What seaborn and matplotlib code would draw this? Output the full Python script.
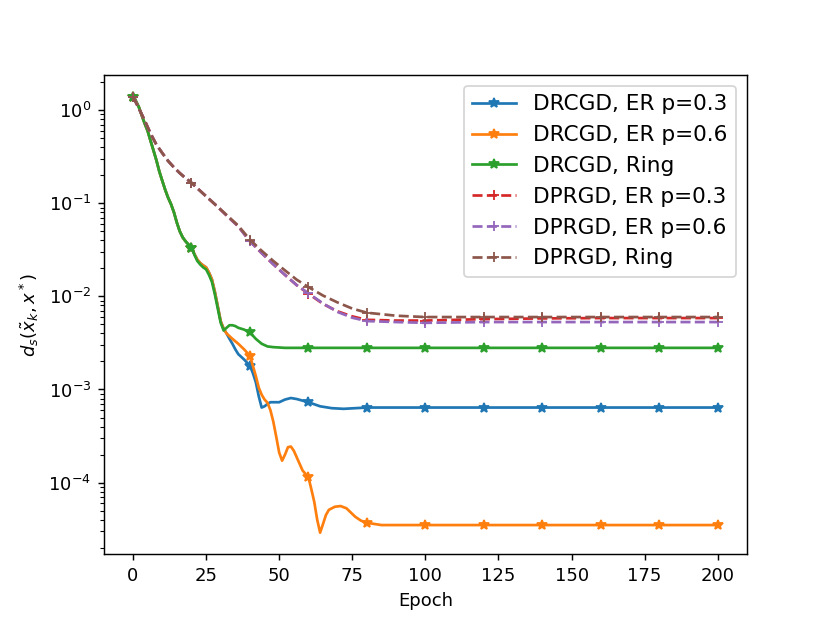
import matplotlib
matplotlib.use('Agg')
import matplotlib.pyplot as plt
import seaborn as sns

# values (log y axis)
drcgd_er03_epochs = [0, 1, 2, 3, 4, 5, 6, 7, 8, 9, 10, 11, 12, 13, 14, 15, 16, 17, 18, 19, 20,
                     21, 22, 23, 24, 25, 26, 27, 28, 29, 30, 31, 32, 33, 34, 35, 36, 38, 40,
                     41, 42, 43, 44, 45, 46, 47, 50, 52, 54, 56, 60, 64, 68, 72, 80,
                     100, 120, 140, 160, 180, 200]
drcgd_er03 = [1.40, 1.25, 1.08, 0.88, 0.72, 0.60, 0.47, 0.37, 0.29, 0.22, 0.175, 0.14, 0.115,
              0.098, 0.080, 0.062, 0.050, 0.043, 0.039, 0.036, 0.0334,
              0.0285, 0.0248, 0.0228, 0.0215, 0.0205, 0.018, 0.0152, 0.0112, 0.0078, 0.0054,
              0.0045, 0.0040, 0.0035, 0.0031, 0.0027, 0.0024, 0.0021, 0.0018,
              0.0015, 0.0012, 0.00085, 0.00064, 0.00066, 0.00070, 0.00073, 0.00073, 0.00078,
              0.00081, 0.00079, 0.00073, 0.00066, 0.00063, 0.00062, 0.00064,
              0.00064, 0.00064, 0.00064, 0.00064, 0.00064, 0.00064]

drcgd_er06_epochs = [0, 1, 2, 3, 4, 5, 6, 7, 8, 9, 10, 11, 12, 13, 14, 15, 16, 17, 18, 19, 20,
                     21, 22, 23, 24, 25, 26, 27, 28, 29, 30, 31, 32, 34, 36, 38, 40,
                     41, 42, 43, 44, 45, 46, 47, 48, 49, 50, 51, 52, 53, 54, 55, 56, 58, 60,
                     61, 62, 63, 64, 65, 66, 67, 69, 71, 73, 76, 78, 80, 85,
                     100, 120, 140, 160, 180, 200]
drcgd_er06 = [1.40, 1.25, 1.08, 0.88, 0.72, 0.60, 0.47, 0.37, 0.29, 0.22, 0.175, 0.14, 0.115,
              0.098, 0.080, 0.062, 0.050, 0.043, 0.039, 0.036, 0.0334,
              0.0285, 0.0248, 0.0228, 0.0215, 0.0205, 0.018, 0.0152, 0.0112, 0.0078, 0.0054,
              0.0045, 0.0040, 0.0035, 0.0031, 0.0027, 0.0023,
              0.0018, 0.0014, 0.00105, 0.00088, 0.00078, 0.00072, 0.00060, 0.00045, 0.00031,
              0.00021, 0.000172, 0.00020, 0.00024, 0.000244, 0.00022, 0.000187, 0.000135,
              0.000114, 8.5e-5, 6.2e-5, 4.0e-5, 2.9e-5, 3.6e-5, 4.5e-5, 5.1e-5, 5.5e-5,
              5.6e-5, 5.3e-5, 4.3e-5, 3.9e-5, 3.7e-5, 3.5e-5,
              3.5e-5, 3.5e-5, 3.5e-5, 3.5e-5, 3.5e-5, 3.5e-5]

drcgd_ring_epochs = [0, 1, 2, 3, 4, 5, 6, 7, 8, 9, 10, 11, 12, 13, 14, 15, 16, 17, 18, 19, 20,
                     21, 22, 23, 24, 25, 26, 27, 28, 29, 30, 31, 32, 33, 34, 35, 36, 38, 40,
                     42, 44, 46, 48, 52, 56, 60, 80, 100, 120, 140, 160, 180, 200]
drcgd_ring = [1.40, 1.25, 1.08, 0.88, 0.72, 0.60, 0.47, 0.37, 0.29, 0.22, 0.175, 0.14, 0.115,
              0.098, 0.080, 0.062, 0.050, 0.043, 0.039, 0.036, 0.0334,
              0.028, 0.024, 0.022, 0.0205, 0.0195, 0.017, 0.0143, 0.0105, 0.0074, 0.0052,
              0.0043, 0.0046, 0.0049, 0.0049, 0.0048, 0.0046, 0.0044, 0.0041,
              0.0035, 0.0031, 0.0029, 0.00285, 0.0028, 0.0028, 0.0028, 0.0028,
              0.0028, 0.0028, 0.0028, 0.0028, 0.0028, 0.0028]

dprgd_epochs = [0, 2, 4, 6, 8, 10, 12, 14, 16, 18, 20, 24, 28, 32, 36, 40, 44, 48, 52, 56,
                60, 65, 70, 75, 80, 90, 100, 120, 140, 160, 180, 200]
dprgd_er03 = [1.40, 1.047, 0.776, 0.562, 0.427, 0.347, 0.285, 0.243, 0.211, 0.186, 0.166,
              0.127, 0.0977, 0.074, 0.0565, 0.039, 0.0292, 0.0221, 0.017, 0.0132,
              0.0107, 0.0083, 0.0069, 0.0061, 0.0056, 0.0055, 0.0055, 0.0057, 0.0058,
              0.00585, 0.00585, 0.00585]
dprgd_er06 = [1.40, 1.047, 0.776, 0.562, 0.427, 0.347, 0.285, 0.243, 0.211, 0.186, 0.166,
              0.127, 0.0977, 0.074, 0.0565, 0.039, 0.0292, 0.0221, 0.017, 0.0132,
              0.0108, 0.0084, 0.0068, 0.0059, 0.00543, 0.0053, 0.0052, 0.0053, 0.0053,
              0.0053, 0.0053, 0.0053]
dprgd_ring = [1.40, 1.047, 0.776, 0.562, 0.427, 0.347, 0.285, 0.243, 0.211, 0.186, 0.166,
              0.127, 0.0977, 0.075, 0.0575, 0.0407, 0.0309, 0.024, 0.019, 0.0151,
              0.0126, 0.0102, 0.0086, 0.0074, 0.00668, 0.0062, 0.0060, 0.0060, 0.0060,
              0.0060, 0.0060, 0.0060]

labels = ['DRCGD, ER p=0.3', 'DRCGD, ER p=0.6', 'DRCGD, Ring',
          'DPRGD, ER p=0.3', 'DPRGD, ER p=0.6', 'DPRGD, Ring']


def every_20(epochs):
    return [i for i, e in enumerate(epochs) if e % 20 == 0]


series = [
    (drcgd_er03_epochs, drcgd_er03, '*', '-'),
    (drcgd_er06_epochs, drcgd_er06, '*', '-'),
    (drcgd_ring_epochs, drcgd_ring, '*', '-'),
    (dprgd_epochs, dprgd_er03, '+', '--'),
    (dprgd_epochs, dprgd_er06, '+', '--'),
    (dprgd_epochs, dprgd_ring, '+', '--'),
]

colors = sns.color_palette('tab10')
colors = [colors[0], colors[1], colors[2], colors[3], colors[4], colors[5]]

fig, ax = plt.subplots(figsize=(830 / 130, 623 / 130), dpi=130)

for (ep, vals, mk, ls), lab, col in zip(series, labels, colors):
    sns.lineplot(x=ep, y=vals, ax=ax, color=col, marker=mk, linestyle=ls,
                 markevery=every_20(ep), markersize=6, markeredgecolor=col,
                 markeredgewidth=1.0, linewidth=1.5, label=lab)

ax.set_yscale('log')
ax.set_xlabel('Epoch')
ax.set_ylabel(r'$d_s(\tilde{x}_k, x^*)$')
ax.legend(loc='upper right', fontsize=12)

fig.savefig('out.png', dpi=130)
